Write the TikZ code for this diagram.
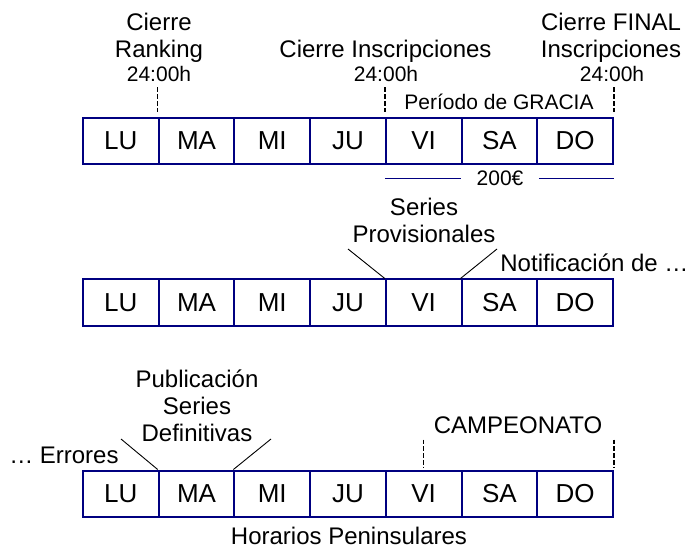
\documentclass[tikz,border=0pt]{standalone}
\usepackage{fontspec}
\setmainfont{Liberation Sans}
\definecolor{navy}{RGB}{0,0,128}
\begin{document}
\begin{tikzpicture}[x=0.5pt,y=-0.5pt,
  daycell/.style={draw=navy,line width=1pt,minimum width=37.85pt,minimum height=23pt,inner sep=0pt,font=\fontsize{13}{15}\selectfont},
  txt/.style={anchor=base,inner sep=0pt,font=\fontsize{12}{14}\selectfont},
  smalltxt/.style={anchor=base,inner sep=0pt,font=\fontsize{10.5}{12}\selectfont},
  cutline/.style={line width=0.75pt,dash pattern=on 2.4pt off 1pt},
  callout/.style={line width=0.45pt},
  euroline/.style={draw=navy,line width=0.85pt}]
  \useasboundingbox (0,0) rectangle (688,549);
  % the three weeks
  \foreach \d [count=\i from 0] in {LU,MA,MI,JU,VI,SA,DO} {
    \node[daycell] (r1-\d) at ({83+75.7*(\i+0.5)},141) {\d};
    \node[daycell] (r2-\d) at ({83+75.7*(\i+0.5)},302.5) {\d};
    \node[daycell] (r3-\d) at ({83+75.7*(\i+0.5)},493.5) {\d};
  }
  % week 1
  \node[txt] (rank1) at (159,30.7) {Cierre};
  \node[txt] (rank2) at (159,57.3) {Ranking};
  \node[smalltxt] (rankh) at (159,81.7) {24:00h};
  \node[txt] (insc) at (385.5,57.3) {Cierre Inscripciones};
  \node[smalltxt] (insch) at (386,81.7) {24:00h};
  \node[txt] (fin1) at (611,30.5) {Cierre FINAL};
  \node[txt] (fin2) at (611,57.3) {Inscripciones};
  \node[smalltxt] (finh) at (612,81.7) {24:00h};
  \node[smalltxt] (gracia) at (499,110) {Período de GRACIA};
  \draw[cutline,shorten <=2.6pt,shorten >=2.5pt] (r1-MA.north west |- rankh.south) -- (r1-MA.north west);
  \draw[cutline,shorten <=2.6pt,shorten >=2.5pt] (r1-VI.north west |- insch.south) -- (r1-VI.north west);
  \draw[cutline,shorten <=2.6pt,shorten >=2.5pt] (r1-DO.north east |- finh.south) -- (r1-DO.north east);
  \node[smalltxt,inner xsep=7.5pt] (eur) at (500,185.7) {200€};
  \draw[euroline] (r1-VI.south west |- eur.west) -- (eur.west);
  \draw[euroline] (eur.east) -- (r1-DO.south east |- eur.east);
  % week 2
  \node[txt] (prov1) at (424,216) {Series};
  \node[txt] (prov2) at (424,242.7) {Provisionales};
  \node[txt,anchor=base west] (notif) at (500,271.7) {Notificación de …};
  \coordinate (p-l) at (348,249);
  \coordinate (p-r) at (497,249);
  \draw[callout] (p-l) -- (r2-VI.north west);
  \draw[callout] (p-r) -- (r2-SA.north west);
  % week 3
  \node[txt] (pub1) at (197,387.3) {Publicación};
  \node[txt] (pub2) at (197,414.3) {Series};
  \node[txt] (pub3) at (197,441.7) {Definitivas};
  \node[txt,anchor=base east] (err) at (119,463) {… Errores};
  \coordinate (d-l) at (121,439);
  \coordinate (d-r) at (271,439);
  \draw[callout] (d-l) -- (r3-MA.north west);
  \draw[callout] (d-r) -- (r3-MI.north west);
  \node[txt] (camp) at (518,433.3) {CAMPEONATO};
  \draw[cutline,shorten <=2.8pt,shorten >=1pt] (r3-VI.north |- camp.south) -- (r3-VI.north);
  \draw[cutline,shorten <=2.8pt,shorten >=1pt] (r3-DO.north east |- camp.south) -- (r3-DO.north east);
  \node[txt] (hor) at (349,544.5) {Horarios Peninsulares};
\end{tikzpicture}
\end{document}
